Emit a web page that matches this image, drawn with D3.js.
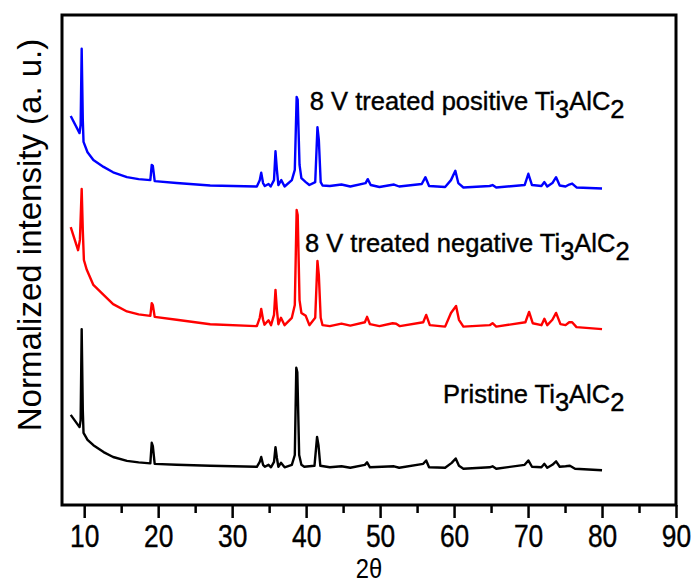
<!DOCTYPE html>
<html>
<head>
<meta charset="utf-8">
<script src="https://cdn.jsdelivr.net/npm/d3@7/dist/d3.min.js"></script>
<style>
  body { margin: 0; background: #fff; }
  svg { display: block; }
</style>
</head>
<body>
<div id="chart"></div>
<script>
// XRD patterns: [2theta, normalized intensity (offset stacked)]
const pristine = [
  [8.18, 18.4], [9.37, 15.9], [9.52, 17.3], [9.66, 35.9], [9.81, 19.4], [9.91, 14.7],
  [10.45, 13.3], [11.24, 12.2], [12.62, 10.8], [13.91, 9.8], [15.78, 9.0], [17.36, 8.7],
  [18.94, 8.5], [19.13, 12.7], [19.28, 12.0], [19.53, 8.4], [22.49, 8.2], [27.03, 8.0],
  [33.34, 7.8], [33.73, 8.8], [33.93, 9.8], [34.18, 8.2], [34.42, 7.8], [34.92, 8.2],
  [35.26, 7.7], [35.66, 8.8], [35.86, 11.8], [36.05, 9.6], [36.25, 7.8], [36.60, 8.6],
  [37.09, 7.7], [38.07, 8.2], [38.47, 10.2], [38.67, 28.0], [38.81, 27.1], [39.06, 10.2],
  [39.36, 8.2], [39.75, 7.8], [41.13, 8.0], [41.48, 13.9], [41.67, 12.2], [41.92, 8.0],
  [43.20, 7.7], [44.78, 7.9], [45.97, 7.6], [47.94, 8.2], [48.24, 8.7], [48.63, 7.7],
  [51.88, 7.9], [52.58, 7.6], [55.83, 8.4], [56.23, 9.1], [56.62, 7.7], [58.79, 7.6],
  [59.68, 8.6], [60.22, 9.5], [60.66, 8.0], [61.26, 7.4], [64.81, 7.7], [65.20, 7.9],
  [65.70, 7.4], [69.54, 8.2], [70.04, 9.1], [70.53, 7.8], [71.81, 7.7], [72.21, 8.4],
  [72.60, 7.6], [73.29, 8.2], [73.79, 8.9], [74.28, 7.8], [75.07, 7.9], [75.66, 8.0],
  [76.35, 7.4], [80.0, 7.1]
];

const negative = [
  [8.18, 56.7], [9.17, 52.0], [9.42, 54.1], [9.66, 64.5], [9.81, 56.1], [9.96, 50.0],
  [10.35, 48.0], [11.24, 44.9], [12.62, 42.9], [13.91, 41.0], [15.78, 39.5], [17.36, 38.9],
  [18.94, 38.6], [19.13, 41.2], [19.28, 40.8], [19.53, 38.4], [22.49, 37.8], [27.03, 36.9],
  [33.34, 36.5], [33.73, 38.2], [33.93, 40.0], [34.18, 37.8], [34.37, 36.8], [34.92, 37.7],
  [35.26, 36.7], [35.66, 38.8], [35.86, 43.9], [36.05, 39.8], [36.25, 36.9], [36.60, 38.2],
  [37.09, 36.7], [38.07, 38.2], [38.47, 40.8], [38.72, 60.2], [38.86, 59.2], [39.11, 41.8],
  [39.36, 39.2], [39.95, 38.6], [40.44, 36.7], [41.23, 38.2], [41.53, 49.8], [41.72, 46.9],
  [41.97, 38.2], [42.22, 36.7], [43.20, 36.5], [44.78, 37.0], [45.97, 36.6], [47.94, 37.3],
  [48.24, 38.4], [48.63, 36.9], [49.91, 36.5], [51.69, 37.1], [52.18, 37.0], [52.67, 36.5],
  [55.83, 37.3], [56.23, 38.8], [56.72, 36.7], [58.79, 36.4], [59.58, 39.2], [60.27, 40.6],
  [60.66, 37.8], [61.26, 36.4], [64.81, 36.7], [65.20, 37.1], [65.70, 36.4], [69.64, 37.3],
  [70.14, 39.4], [70.63, 37.1], [71.81, 36.7], [72.21, 38.0], [72.60, 36.7], [73.29, 37.8],
  [73.79, 39.2], [74.38, 36.9], [75.07, 36.7], [75.56, 37.3], [75.96, 37.3], [76.55, 36.3],
  [80.0, 35.9]
];

const positive = [
  [8.18, 79.4], [9.37, 75.9], [9.52, 77.6], [9.66, 93.1], [9.81, 78.6], [9.91, 74.1],
  [10.45, 72.0], [11.24, 70.4], [12.62, 69.0], [13.91, 67.9], [15.78, 66.9], [17.36, 66.5],
  [18.94, 66.3], [19.13, 69.4], [19.28, 69.2], [19.53, 66.1], [22.49, 65.7], [27.03, 65.2],
  [33.34, 65.0], [33.73, 66.3], [33.93, 67.8], [34.18, 65.7], [34.42, 65.1], [34.92, 65.5],
  [35.21, 65.0], [35.66, 66.3], [35.86, 72.2], [36.05, 68.4], [36.25, 65.3], [36.64, 66.3],
  [37.09, 65.0], [38.07, 66.3], [38.47, 68.4], [38.72, 83.3], [38.86, 82.7], [39.11, 69.4],
  [39.36, 66.7], [39.95, 65.9], [40.44, 65.3], [41.23, 65.9], [41.53, 77.1], [41.72, 74.5],
  [41.97, 65.9], [42.22, 65.2], [43.20, 65.1], [44.78, 65.4], [45.97, 65.0], [48.04, 65.7],
  [48.33, 66.5], [48.73, 65.3], [49.91, 64.9], [51.88, 65.4], [52.58, 65.0], [55.63, 65.5],
  [56.13, 66.9], [56.62, 65.1], [58.79, 64.9], [59.58, 66.3], [60.17, 68.2], [60.57, 65.7],
  [61.26, 64.8], [64.81, 65.1], [65.20, 65.3], [65.70, 64.8], [69.54, 65.3], [70.04, 67.6],
  [70.53, 65.3], [71.81, 65.1], [72.21, 65.9], [72.60, 65.0], [73.29, 65.7], [73.79, 66.9],
  [74.28, 65.2], [75.07, 65.0], [75.56, 65.4], [75.96, 65.6], [76.55, 64.8], [80.0, 64.6]
];

const seriesColors = ['#000000', '#ff0000', '#0000ff'];
const majorTicks = [10, 20, 30, 40, 50, 60, 70, 80, 90];
const minorTicks = [15, 25, 35, 45, 55, 65, 75, 85];

// [label, 2theta at label start, intensity at baseline]
const labels = [
  ['Pristine', 58.5, 20.8],
  ['8 V treated negative', 39.85, 51.6],
  ['8 V treated positive', 40.5, 80.6]
];

const width = 692;
const height = 583;
const margin = { top: 15, right: 16, bottom: 78, left: 62 };
const font = '"Liberation Sans", Arial, sans-serif';

const svg = d3.select('#chart')
  .append('svg')
  .attr('width', width)
  .attr('height', height);

const x = d3.scaleLinear()
  .domain([7, 90])
  .range([margin.left, width - margin.right]);

const y = d3.scaleLinear()
  .domain([0, 100])
  .range([height - margin.bottom, margin.top]);

const line = d3.line()
  .x(d => x(d[0]))
  .y(d => y(d[1]));

// Traces
svg.append('g')
  .selectAll('path')
  .data([pristine, negative, positive])
  .enter()
  .append('path')
  .attr('d', line)
  .attr('fill', 'none')
  .attr('stroke', (d, i) => seriesColors[i])
  .attr('stroke-width', 2.4)
  .attr('stroke-linejoin', 'round');

// Bottom axis, major ticks with labels
const xAxis = svg.append('g')
  .attr('transform', `translate(0,${height - margin.bottom})`)
  .call(d3.axisBottom(x).tickValues(majorTicks).tickSize(13).tickPadding(7).tickFormat(d3.format('d')));
xAxis.select('.domain').remove();
xAxis.selectAll('.tick line').attr('stroke-width', 2.5);
xAxis.selectAll('.tick text')
  .attr('font-family', font)
  .attr('font-size', 31)
  .attr('fill', '#000')
  .attr('stroke', '#000')
  .attr('stroke-width', 0.4)
  .attr('transform', 'scale(0.85,1)');

// Minor ticks
const xMinor = svg.append('g')
  .attr('transform', `translate(0,${height - margin.bottom})`)
  .call(d3.axisBottom(x).tickValues(minorTicks).tickSize(8).tickFormat(''));
xMinor.select('.domain').remove();
xMinor.selectAll('.tick line').attr('stroke-width', 2.5);

// Frame
svg.append('rect')
  .attr('x', margin.left)
  .attr('y', margin.top)
  .attr('width', width - margin.left - margin.right)
  .attr('height', height - margin.top - margin.bottom)
  .attr('fill', 'none')
  .attr('stroke', '#000')
  .attr('stroke-width', 3);

// Axis titles
svg.append('text')
  .attr('transform', `translate(${(margin.left + width - margin.right) / 2},578) scale(0.85,1)`)
  .attr('text-anchor', 'middle')
  .style('font-family', font)
  .style('font-size', '28px')
  .text('2θ');

svg.append('text')
  .attr('transform', 'translate(41,235) rotate(-90)')
  .attr('text-anchor', 'middle')
  .style('font-family', font)
  .style('font-size', '33px')
  .text('Normalized intensity (a. u.)');

// Sample labels with Ti3AlC2 subscripts
labels.forEach(([name, lx, ly]) => {
  const t = svg.append('text')
    .attr('x', x(lx))
    .attr('y', y(ly))
    .style('font-family', font)
    .style('font-size', '25.5px')
    .attr('fill', '#000')
    .attr('stroke', '#000')
    .attr('stroke-width', 0.4);
  t.append('tspan').text(name + ' Ti');
  t.append('tspan').attr('dy', 8).text('3');
  t.append('tspan').attr('dy', -8).text('AlC');
  t.append('tspan').attr('dy', 8).text('2');
});
</script>
</body>
</html>
